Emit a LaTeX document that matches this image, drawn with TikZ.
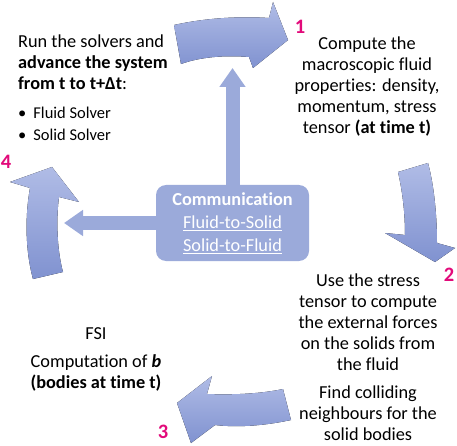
\documentclass[tikz,border=0pt]{standalone}
\usepackage{fontspec}
\setmainfont[Ligatures=NoCommon]{Carlito}
\usepackage{tikz}
\usetikzlibrary{positioning,arrows.meta}
\definecolor{commblue}{RGB}{155,170,218}
\definecolor{arrowlight}{RGB}{176,188,230}
\definecolor{arrowdark}{RGB}{128,146,208}
\definecolor{steppink}{RGB}{226,10,122}
\newcommand{\bodyfont}{\fontsize{18.3}{21}\selectfont}
\newcommand{\listfont}{\fontsize{16.5}{22}\selectfont}
\tikzset{
  flowtext/.style={font=\bodyfont,align=center,inner sep=0pt},
  stepnum/.style={font=\fontsize{20.5}{20.5}\selectfont\bfseries,text=steppink,inner sep=0pt},
  commbox/.style={fill=commblue,rounded corners=10pt,text=white,font=\fontsize{18.3}{23}\selectfont,
    align=center,minimum width=153pt,minimum height=76pt,inner sep=0pt},
  pipe/.style={draw=commblue,line width=14pt,-{Triangle[width=25pt,length=19pt]}},
  bendarrow/.style={top color=arrowlight,bottom color=arrowdark,draw=none},
}

\begin{document}
\begin{tikzpicture}[x=1pt,y=-1pt]
            \useasboundingbox (0,0) rectangle (457,446);
            % cycle arrows
            \fill[bendarrow] (174,25) .. controls (205,18) and (240,16) .. (269,18) -- (273,2) -- (288,40)
                -- (253,68) -- (249,57) .. controls (225,55) and (200,57) .. (181,64) -- cycle;
            \fill[bendarrow] (398,172) -- (428,163) .. controls (434,185) and (437,215) .. (437,243)
                -- (455,248) -- (435,262) -- (385,233) -- (405,235) .. controls (405,210) and (402,190) .. (398,172) -- cycle;
            \fill[bendarrow] (283,389) .. controls (260,394) and (230,395) .. (207,394) -- (212,376) -- (177,403)
                -- (191,443) -- (215,425) .. controls (240,428) and (268,425) .. (291,420) -- cycle;
            \fill[bendarrow] (33,279) -- (63,272) .. controls (57,250) and (56,220) .. (59,197) -- (79,202)
                -- (52,167) -- (10,182) -- (30,188) .. controls (25,215) and (25,250) .. (33,279) -- cycle;
            % communication hub
            \node[commbox] (comm) at (232.5,223) {\textbf{Communication}\\\underline{Fluid-to-Solid}\\\underline{Solid-to-Fluid}};
            \coordinate (uptip) at (232.5,68);
            \coordinate (lefttip) at (64,223);
            \draw[pipe] (comm.north) -- (uptip);
            \draw[pipe] (comm.west) -- (lefttip);
            % step texts
            \node[flowtext,align=left,anchor=north west] (runtxt) at (18,35)
                {Run the solvers and\\\textbf{advance the system}\\\textbf{from t to t+Δt}:};
            \node[flowtext,font=\listfont,align=left,below=17pt of runtxt.south west,anchor=north west] (solvers)
                {\textbullet\hspace{7pt}Fluid Solver\\\textbullet\hspace{7pt}Solid Solver};
            \node[flowtext,anchor=north] (macro) at (367,37)
                {Compute the\\macroscopic fluid\\properties: density,\\momentum, stress\\tensor \textbf{(at time t)}};
            \node[flowtext,anchor=north] (forces) at (368,274)
                {Use the stress\\tensor to compute\\the external forces\\on the solids from\\the fluid};
            \node[flowtext,below=14pt of forces] (neighbours) {Find colliding\\neighbours for the\\solid bodies};
            \node[flowtext] (fsi) at (96,334) {FSI};
            \node[flowtext,below=14pt of fsi] (bcomp) {Computation of \textbf{\textit{b}}\\\textbf{(bodies at time t)}};
            % step numbers
            \node[stepnum] (n1) at (300,27) {1};
            \node[stepnum] (n2) at (449,275) {2};
            \node[stepnum] (n3) at (163,432) {3};
            \node[stepnum] (n4) at (6,162) {4};
\end{tikzpicture}
\end{document}
